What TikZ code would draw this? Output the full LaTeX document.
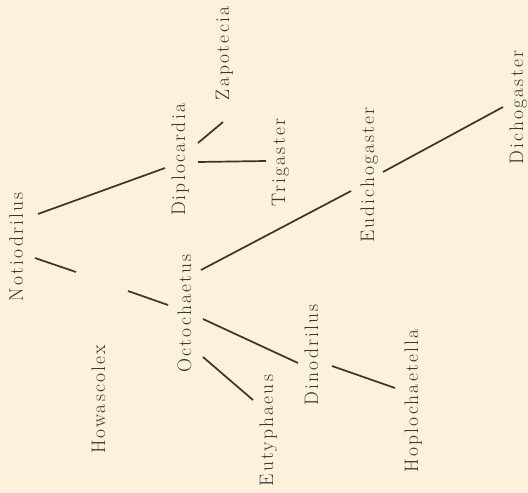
\documentclass[tikz,border=0pt]{standalone}
\usepackage{fontspec}
\setmainfont{Latin Modern Roman}[LetterSpace=11]
\definecolor{paper}{HTML}{FCF1DC}
\definecolor{ink}{HTML}{3A342C}
\begin{document}
\begin{tikzpicture}[x=1pt,y=-1pt,
  taxon/.style={rotate=90,anchor=base,inner sep=0pt,text=ink,font=\fontsize{19.5}{22}\selectfont},
  link/.style={draw=ink,line width=1.7pt}]
\fill[paper] (0,0) rectangle (528,493);
\useasboundingbox (0,0) rectangle (528,493);
% taxa (base point: baseline x, centre y)
\node[taxon] (noti) at (23,247) {Notiodrilus};
\node[taxon] (dipl) at (185,160) {Diplocardia};
\node[taxon] (zapo) at (229,53.5) {Zapotecia};
\node[taxon] (trig) at (285,162.5) {Trigaster};
\node[taxon] (eudi) at (374,175) {Eudichogaster};
\node[taxon] (dich) at (523,107.5) {Dichogaster};
\node[taxon] (octo) at (191,313.5) {Octochaetus};
\node[taxon] (howa) at (105,399.5) {Howascolex};
\node[taxon] (euty) at (273,430.5) {Eutyphaeus};
\node[taxon] (dino) at (318,355) {Dinodrilus};
\node[taxon] (hopl) at (418,401) {Hoplochaetella};
% connector ends
\coordinate (nd1) at (38,214);   \coordinate (nd2) at (165,168);
\coordinate (dz1) at (198,143);  \coordinate (dz2) at (223,122);
\coordinate (dt1) at (198,162);  \coordinate (dt2) at (266,161);
\coordinate (oe1) at (201,270);  \coordinate (oe2) at (351,191);
\coordinate (ed1) at (383,172);  \coordinate (ed2) at (503,107);
\coordinate (no1) at (35,258);   \coordinate (no2) at (76,272);
\coordinate (no3) at (128,291);  \coordinate (no4) at (168,305);
\coordinate (od1) at (203,319);  \coordinate (od2) at (298,363);
\coordinate (ou1) at (203,357);  \coordinate (ou2) at (253,400);
\coordinate (dh1) at (332,366);  \coordinate (dh2) at (395,388);
\draw[link] (nd1) -- (nd2);
\draw[link] (dz1) -- (dz2);
\draw[link] (dt1) -- (dt2);
\draw[link] (oe1) -- (oe2);
\draw[link] (ed1) -- (ed2);
\draw[link] (no1) -- (no2);
\draw[link] (no3) -- (no4);
\draw[link] (od1) -- (od2);
\draw[link] (ou1) -- (ou2);
\draw[link] (dh1) -- (dh2);
\end{tikzpicture}
\end{document}
